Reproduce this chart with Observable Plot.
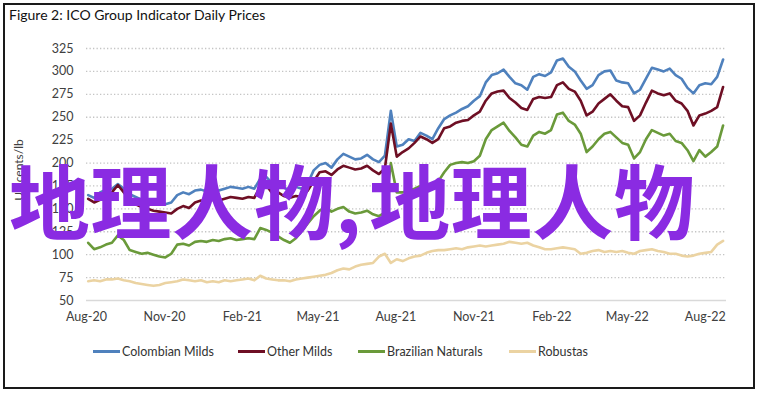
<!DOCTYPE html>
<html>
<head>
<meta charset="utf-8">
<script src="https://cdn.jsdelivr.net/npm/d3@7"></script>
<script src="https://cdn.jsdelivr.net/npm/@observablehq/plot@0.6"></script>
<style>
  html, body { margin: 0; padding: 0; background: #fff; }
  #frame { position: absolute; left: 3px; top: 3px; width: 752px; height: 386px; border: 2px solid #1a1a1a; box-sizing: border-box; }
  #title { position: absolute; left: 9px; top: 6px; font: 14px Lato, sans-serif; color: #111; }
  #chart { position: absolute; left: 0; top: 0; }
  #ylabel { position: absolute; left: 18px; top: 170px; transform: translate(-50%, -50%) rotate(-90deg); font: 12px Lato, sans-serif; color: #404040; white-space: nowrap; }
  .leg { position: absolute; top: 344px; font: 12.5px Lato, sans-serif; color: #333; display: flex; align-items: center; white-space: nowrap; }
  .leg i { display: inline-block; width: 27px; height: 3px; margin-right: 2px; }
  #wm { position: absolute; left: 9px; top: 157px; font: bold 81px "Noto Sans CJK SC", sans-serif; color: #8A2BE2; line-height: 1; white-space: nowrap; letter-spacing: 0.5px; }
  #wm .c { letter-spacing: 8px; }
</style>
</head>
<body>
<div id="frame"></div>
<div id="title">Figure 2: ICO Group Indicator Daily Prices</div>
<div id="chart"></div>
<div id="ylabel">US cents/lb</div>
<div id="legend"></div>
<div id="wm">地理人物<span class="c">,</span>地理人物</div>
<script>
const title = "Figure 2: ICO Group Indicator Daily Prices";
const seriesNames = ["Colombian Milds", "Other Milds", "Brazilian Naturals", "Robustas"];
const seriesColors = ["#4F81BD", "#6E0F24", "#6A9A3A", "#EBD3A2"];
const firstWeek = "2020-08-03"; // weekly observations from this date
const yTicks = [50, 75, 100, 125, 150, 175, 200, 225, 250, 275, 300, 325];
const xTickLabels = ["2020-08-01","2020-11-01","2021-02-01","2021-05-01","2021-08-01","2021-11-01","2022-02-01","2022-05-01","2022-08-01"];

const colombianMilds = [165,162,168,171,172,177,172,166,163,160,158,157,158,155,157,165,168,166,170,171,
  169,171,170,172,174,173,172,174,172,183,185,178,179,173,170,174,172,178,192,198,
  200,195,204,210,207,204,205,209,204,201,208,257,218,220,226,224,233,230,226,238,
  248,252,255,259,262,268,273,288,296,298,302,294,287,285,280,294,297,295,299,312,
  314,305,300,290,281,285,296,300,301,290,288,287,276,280,292,304,302,300,303,296,
  292,282,276,285,287,286,294,313];
const otherMilds = [161,157,160,165,168,176,168,160,155,152,150,148,147,146,145,150,153,151,157,159,
  158,160,159,161,163,162,161,163,162,175,176,167,168,164,162,164,163,170,180,190,
  191,187,193,197,195,193,194,197,192,188,194,243,207,212,216,222,229,226,222,226,
  238,240,244,246,247,252,256,268,276,278,279,271,266,260,258,270,272,271,272,285,
  288,281,278,268,252,256,265,270,275,268,262,261,246,252,266,279,276,274,276,268,
  265,257,241,252,254,257,261,283];
const brazilianNaturals = [113,106,108,111,113,121,116,105,103,101,102,100,98,97,101,111,112,110,114,115,
  114,116,115,117,118,116,117,118,117,129,127,124,120,116,113,118,126,134,142,148,
  152,147,150,152,147,145,146,148,144,142,146,200,168,168,170,172,175,172,173,180,
  190,198,200,201,200,202,208,226,236,240,244,235,228,220,218,230,234,232,236,253,
  255,246,242,232,212,218,226,232,234,228,222,220,205,212,226,236,233,230,232,224,
  222,214,202,214,207,212,218,241];
const robustas = [71,72,71,73,73,74,72,71,69,68,67,66,67,69,70,71,73,72,71,72,
  70,71,70,72,71,72,73,74,72,77,74,73,72,72,71,73,74,75,76,77,
  78,80,83,85,84,87,89,90,91,98,101,91,95,93,96,98,99,102,104,105,
  105,106,107,106,108,109,110,109,110,111,112,114,113,112,113,110,108,106,106,107,
  108,107,106,101,102,104,105,103,104,103,104,102,101,104,105,106,104,103,101,101,
  99,98,99,101,102,103,111,115];

const seriesValues = [colombianMilds, otherMilds, brazilianNaturals, robustas];
const start = new Date(firstWeek + "T00:00:00Z");
const rows = [];
seriesValues.forEach((vals, s) => vals.forEach((v, i) => rows.push({series: seriesNames[s], date: d3.utcDay.offset(start, 7 * i), value: v})));
const xTicks = xTickLabels.map(d => new Date(d + "T00:00:00Z"));
const fmt = d3.utcFormat("%b-%y");

const chart = Plot.plot({
  width: 758, height: 330,
  marginLeft: 86, marginRight: 32, marginTop: 48, marginBottom: 30,
  style: {fontFamily: "Lato, sans-serif", fontSize: "12.5px", color: "#404040", background: "transparent", overflow: "visible"},
  x: {type: "utc", domain: [new Date("2020-08-01T00:00:00Z"), new Date("2022-08-26T00:00:00Z")]},
  y: {domain: [50, 325]},
  color: {domain: seriesNames, range: seriesColors},
  marks: [
    Plot.ruleY(yTicks.filter(d => d > 50), {stroke: "#c4c4c4", strokeWidth: 1.3, strokeDasharray: "1.3,2.2"}),
    Plot.ruleY([50], {stroke: "#d9d9d9", strokeWidth: 1.5}),
    Plot.line(rows, {x: "date", y: "value", z: "series", stroke: "series", strokeWidth: 2.6, strokeLinejoin: "round"}),
    Plot.axisX({ticks: xTicks, tickFormat: fmt, tickSize: 0, tickPadding: 12, label: null}),
    Plot.axisY({ticks: yTicks, tickSize: 0, tickPadding: 13, label: null})
  ]
});
document.getElementById("chart").appendChild(chart);

const legendLefts = [93, 238, 358, 509];
const legend = document.getElementById("legend");
seriesNames.forEach((name, i) => {
  const el = document.createElement("div");
  el.className = "leg";
  el.style.left = legendLefts[i] + "px";
  el.innerHTML = `<i style="background:${seriesColors[i]}"></i><span></span>`;
  el.querySelector("span").textContent = name;
  legend.appendChild(el);
});
</script>
</body>
</html>
